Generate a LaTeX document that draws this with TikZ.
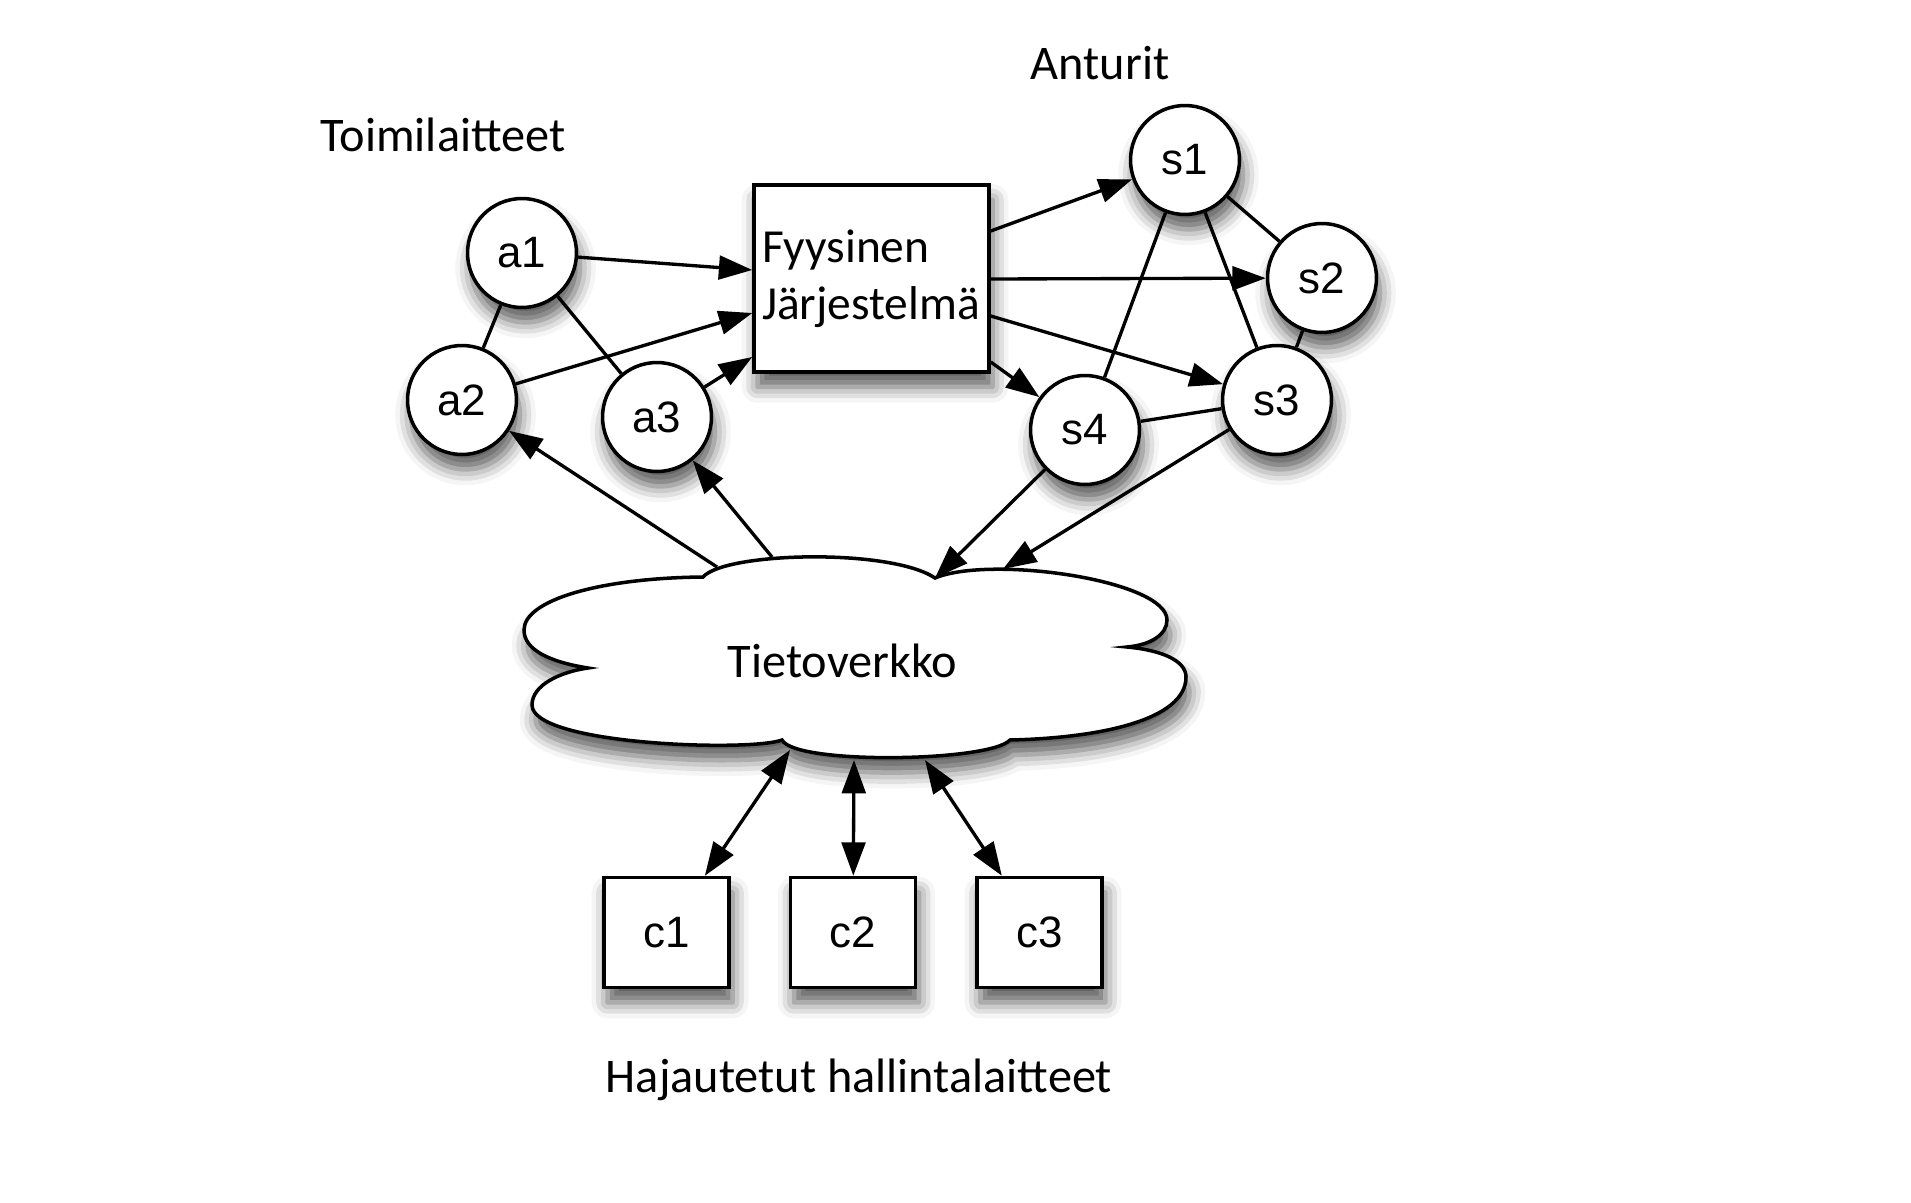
\documentclass[tikz,border=0pt]{standalone}
\usepackage{fontspec}
\setmainfont{Carlito}
\newfontfamily\arialfont{Liberation Sans}
\usepackage{tikz}
\usetikzlibrary{positioning, calc, arrows.meta, shadows.blur}

\begin{document}
\begin{tikzpicture}[x=0.02cm, y=-0.02cm,
    soft_shadow/.style={blur shadow={shadow xshift=2pt, shadow yshift=-8.5pt, shadow blur radius=9pt, shadow opacity=65}},
    device/.style={circle, draw, line width=2pt, fill=white, minimum size=2.18cm, inner sep=0pt, font=\arialfont\fontsize{25}{30}\selectfont, soft_shadow},
    ctrl/.style={rectangle, draw, line width=2pt, fill=white, minimum width=2.5cm, minimum height=2.2cm, inner sep=0pt, font=\arialfont\fontsize{25}{30}\selectfont, soft_shadow},
    system/.style={rectangle, draw, line width=2pt, fill=white, minimum height=3.74cm, text width=4.38cm, inner xsep=0.16cm, align=left, font=\fontsize{27}{32.4}\selectfont, soft_shadow},
    caption/.style={anchor=base, inner sep=0pt, font=\fontsize{27.5}{32}\selectfont},
    link/.style={line width=1.9pt, draw=black},
    arrow_pointer/.style={link, -{Triangle[length=19pt, width=13.5pt, fill=black]}},
    two_way/.style={link, {Triangle[length=19pt, width=13.5pt, fill=black]}-{Triangle[length=19pt, width=13.5pt, fill=black]}}]

    \useasboundingbox (0,0) rectangle (1911,1203);

    % Labels
    \node[caption] (lbl_act) at (443,152) {Toimilaitteet};
    \node[caption] (lbl_sens) at (1100,80) {Anturit};
    \node[caption] (lbl_ctrl) at (859,1092) {Hajautetut hallintalaitteet};

    % Network cloud
    \path[draw, fill=white, line width=2pt, soft_shadow]
        (588,668) .. controls (550,662) and (524,650) .. (524,630)
        .. controls (524,600) and (600,578) .. (703,577)
        .. controls (725,552) and (890,548) .. (935,578)
        .. controls (990,555) and (1167,580) .. (1167,620)
        .. controls (1167,635) and (1150,645) .. (1127,647)
        .. controls (1160,650) and (1186,660) .. (1186,677)
        .. controls (1186,720) and (1100,738) .. (1010,740)
        .. controls (990,762) and (795,765) .. (782,740)
        .. controls (750,752) and (532,745) .. (532,705)
        .. controls (532,685) and (560,672) .. (588,668) -- cycle;
    \node[caption] (net) at (842.5,677) {Tietoverkko};
    \coordinate (net_a2) at (717,567);
    \coordinate (net_a3) at (772,557);
    \coordinate (net_s4) at (935,578);
    \coordinate (net_s3) at (1003,569);
    \coordinate (net_c1) at (790,750);
    \coordinate (net_c2) at (854,760);
    \coordinate (net_c3) at (925,760);

    % Actuators
    \node[device] (a1) at (522,253) {a1};
    \node[device] (a2) at (462,400) {a2};
    \node[device] (a3) at (657,417) {a3};

    % Physical system
    \node[system] (sys) at (871.5,278.5) {Fyysinen\\Järjestelmä};

    % Sensors
    \node[device] (s1) at (1185,160) {s1};
    \node[device] (s2) at (1322,278) {s2};
    \node[device] (s3) at (1277,400) {s3};
    \node[device] (s4) at (1085,430) {s4};

    % Controllers
    \node[ctrl] (c1) at (666.5,932.5) {c1};
    \node[ctrl, right=1.16cm of c1] (c2) {c2};
    \node[ctrl, right=1.16cm of c2] (c3) {c3};

    % Actuators to the system
    \draw[link] (a1) -- (a2);
    \draw[link] (a1) -- (a3);
    \draw[arrow_pointer] (a1) -- ($(sys.west)+(0,-8.5)$);
    \draw[arrow_pointer] (a2) -- ($(sys.west)+(0,34.5)$);
    \draw[arrow_pointer] (a3) -- ($(sys.west)+(0,78.5)$);

    % System to the sensors
    \draw[arrow_pointer] ($(sys.east)+(0,-47.5)$) -- (s1);
    \draw[arrow_pointer] ($(sys.east)+(0,0.5)$) -- (s2);
    \draw[arrow_pointer] ($(sys.east)+(0,37.5)$) -- (s3);
    \draw[arrow_pointer] ($(sys.east)+(0,83.5)$) -- (s4);
    \draw[link] (s1) -- (s2);
    \draw[link] (s1) -- (s3);
    \draw[link] (s1) -- (s4);
    \draw[link] (s2) -- (s3);
    \draw[link] (s3) -- (s4);

    % Network links
    \draw[arrow_pointer] (net_a2) -- (a2);
    \draw[arrow_pointer] (net_a3) -- (a3);
    \draw[arrow_pointer] (s4) -- (net_s4);
    \draw[arrow_pointer] (s3) -- (net_s3);
    \draw[two_way] (net_c1) -- (c1);
    \draw[two_way] (net_c2) -- (c2);
    \draw[two_way] (net_c3) -- (c3);
\end{tikzpicture}
\end{document}
